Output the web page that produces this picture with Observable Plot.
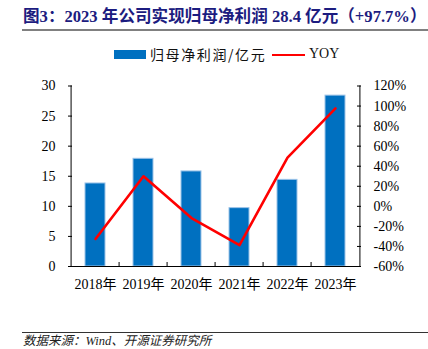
<!DOCTYPE html>
<html>
<head>
<meta charset="utf-8">
<script src="https://cdn.jsdelivr.net/npm/d3@7"></script>
<script src="https://cdn.jsdelivr.net/npm/@observablehq/plot@0.6"></script>
<style>
  html, body { margin: 0; padding: 0; background: #fff; }
  #wrap { position: relative; width: 428px; height: 349px; overflow: hidden; font-family: "Liberation Serif", "Noto Sans CJK SC", serif; }
  #title { position: absolute; left: 23px; top: 6px; font-size: 16.6px; font-weight: bold; color: #1c1c80; white-space: nowrap; line-height: 22px; }
  #tline { position: absolute; left: 22px; right: 0; top: 28.5px; height: 2px; background: #808080; }
  #legend { position: absolute; left: 0; top: 44px; width: 428px; height: 20px; font-size: 14px; }
  .sw { position: absolute; }
  .lt { position: absolute; top: 0; line-height: 20px; white-space: nowrap; color: #111; }
  #chart { position: absolute; left: 0; top: 70px; }
  #bline { position: absolute; left: 22px; right: 0; top: 331.5px; height: 1px; background: #333; }
  #source { position: absolute; left: 23px; top: 334px; font-size: 12.5px; color: #222; white-space: nowrap; font-style: italic; line-height: 14px; }
</style>
</head>
<body>
<div id="wrap">
  <div id="title"></div>
  <div id="tline"></div>
  <div id="legend"></div>
  <div id="chart"></div>
  <div id="bline"></div>
  <div id="source"></div>
</div>
<script>
const titleText = "图3：2023 年公司实现归母净利润 28.4 亿元（+97.7%）";
const sourceText = "数据来源：Wind、开源证券研究所";
const seriesNames = ["归母净利润/亿元", "YOY"];
const years = ["2018年", "2019年", "2020年", "2021年", "2022年", "2023年"];
const profit = [13.8, 17.9, 15.8, 9.7, 14.4, 28.4];
const yoy = [-32.5, 30.0, -11.7, -38.6, 48.5, 97.7];
const leftTicks = [0, 5, 10, 15, 20, 25, 30];
const rightTicks = [-60, -40, -20, 0, 20, 40, 60, 80, 100, 120];

const barColor = "#0070C0";
const lineColor = "#FF0000";

document.getElementById("title").textContent = titleText;
document.getElementById("source").textContent = sourceText;

// legend
const lg = document.getElementById("legend");
lg.innerHTML =
  `<div class="sw" style="left:114px;top:6px;width:32px;height:9px;background:${barColor}"></div>` +
  `<div class="lt" style="left:150px;letter-spacing:1.6px;font-family:'Noto Sans CJK SC',sans-serif;font-size:14px;">${seriesNames[0]}</div>` +
  `<div class="sw" style="left:272px;top:9.5px;width:33px;height:2px;background:${lineColor}"></div>` +
  `<div class="lt" style="left:309px;font-size:14px;">${seriesNames[1]}</div>`;

// map right-axis (%) onto left scale domain
const lMin = 0, lMax = 30, rMin = -60, rMax = 120;
const toLeft = v => lMin + (v - rMin) / (rMax - rMin) * (lMax - lMin);

const data = years.map((y, i) => ({year: y, profit: profit[i], yoy: yoy[i]}));

const W = 428, H = 230, mL = 68, mR = 67, mT = 15.5, mB = 34;
const plotW = W - mL - mR, plotH = H - mT - mB;
const step = plotW / years.length;
const tickLen = 4;

const chart = Plot.plot({
  width: W,
  height: H,
  marginLeft: mL,
  marginRight: mR,
  marginTop: mT,
  marginBottom: mB,
  style: {fontFamily: "'Liberation Serif', 'Noto Sans CJK SC', serif", fontSize: "14px", color: "#000", background: "transparent"},
  x: {type: "band", domain: years, paddingInner: 0.59, paddingOuter: 0.295, axis: null},
  y: {domain: [lMin, lMax], axis: null},
  marks: [
    Plot.barY(data, {x: "year", y: "profit", fill: barColor, stroke: "#9cc3e8", strokeWidth: 1}),
    Plot.lineY(data, {x: "year", y: d => toLeft(d.yoy), stroke: lineColor, strokeWidth: 2.6}),
    // axis lines
    Plot.ruleY([lMin], {stroke: "#000", strokeWidth: 1}),
    Plot.ruleX([years[0]], {stroke: "#000", strokeWidth: 1, dx: -step / 2}),
    Plot.ruleX([years[years.length - 1]], {stroke: "#000", strokeWidth: 1, dx: step / 2}),
    // inward ticks
    Plot.ruleY(leftTicks, {stroke: "#000", insetRight: plotW - tickLen}),
    Plot.ruleY(rightTicks.map(toLeft), {stroke: "#000", insetLeft: plotW - tickLen}),
    Plot.ruleX(years.slice(1), {stroke: "#000", dx: -step / 2, insetTop: plotH - tickLen}),
    // labels
    Plot.axisY({anchor: "left", ticks: leftTicks, tickSize: 0, tickPadding: 13, fontSize: 14, label: null}),
    Plot.axisY({anchor: "right", ticks: rightTicks.map(toLeft), tickSize: 0, tickPadding: 12, fontSize: 14, label: null,
      tickFormat: d => Math.round(rMin + (d - lMin) / (lMax - lMin) * (rMax - rMin)) + "%"}),
    Plot.axisX({anchor: "bottom", tickSize: 0, tickPadding: 13, fontSize: 14, label: null})
  ]
});
document.getElementById("chart").appendChild(chart);
</script>
</body>
</html>
